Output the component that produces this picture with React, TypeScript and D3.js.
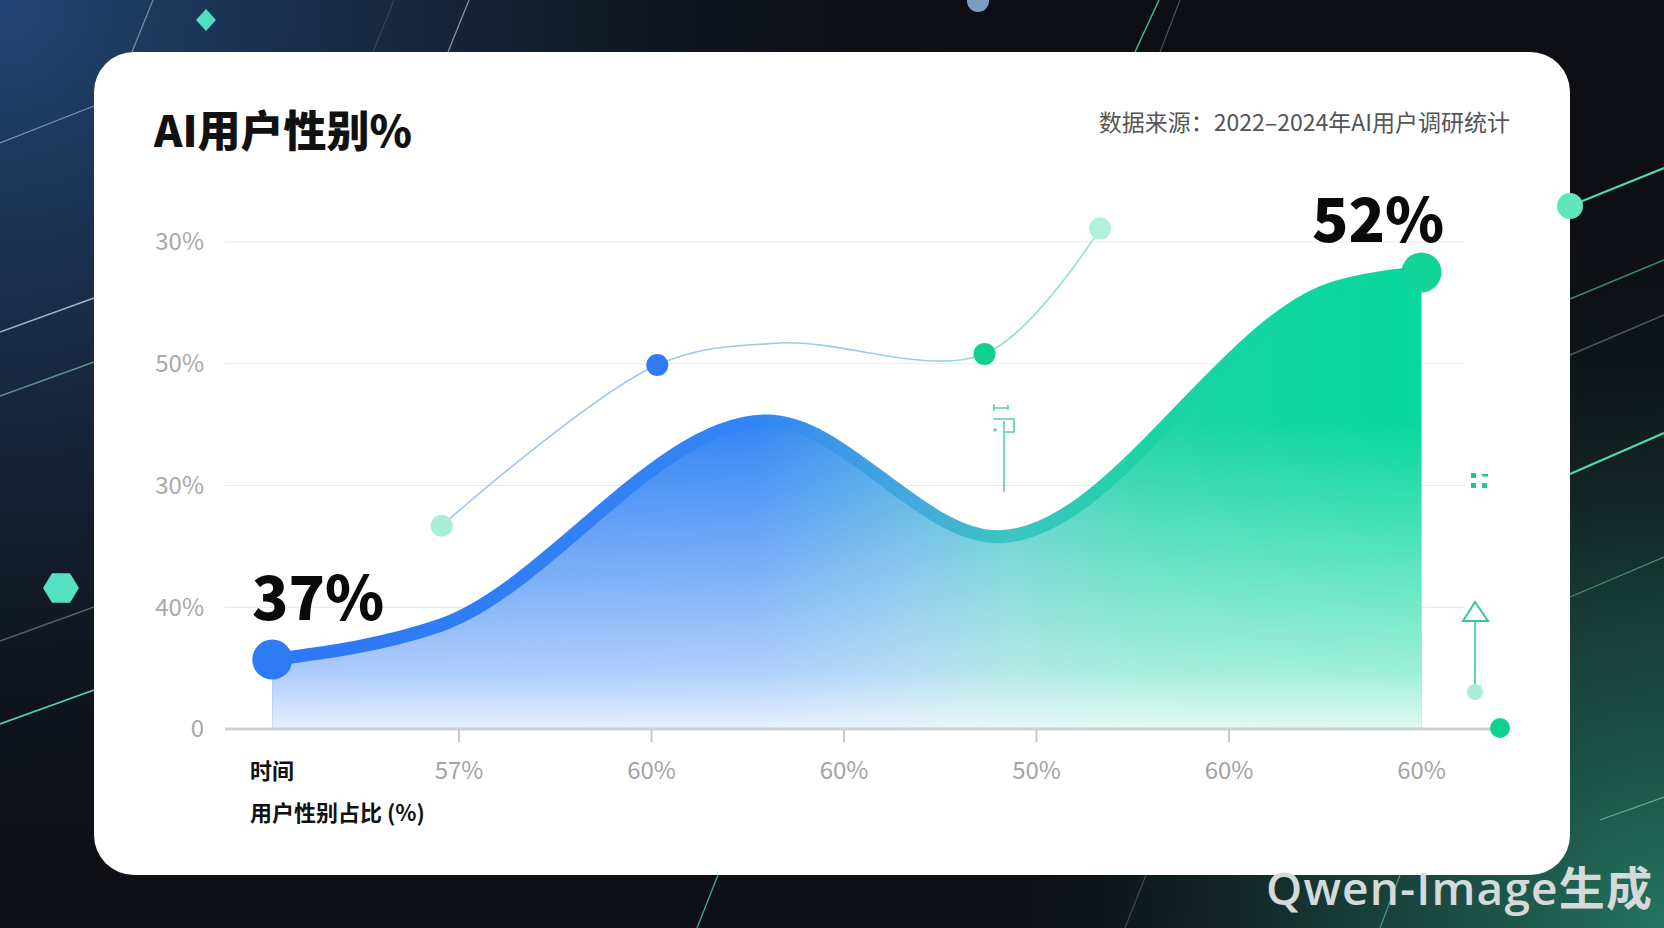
import React from "react";
import * as d3 from "d3";

// ---------- data ----------
const xTickLabels = ["时间", "57%", "60%", "60%", "50%", "60%", "60%"];
const yTickValues = [0, 1, 2, 3, 4];
const yTickLabels = ["0", "40%", "30%", "50%", "30%"];

// main area series: [position index, value in grid units]
const mainX = [0.03, 0.9, 2.6, 3.8, 5.56, 6.0];
const mainY = [0.57, 0.85, 2.53, 1.58, 3.63, 3.75];

// secondary thin line series
const sideX = [0.91, 2.03, 2.67, 3.73, 4.33];
const sideY = [1.67, 2.99, 3.17, 3.08, 4.11];
const sideDot = [true, true, false, true, true];

const startLabel = "37%";
const endLabel = "52%";
const title = "AI用户性别%";
const source = "数据来源：2022–2024年AI用户调研统计";
const xTitle = "用户性别占比 (%)";

// ---------- styles ----------
const W = 1664;
const H = 928;
const FONT = "'Noto Sans CJK SC', 'Noto Sans', sans-serif";
const sideDotColors = ["#a9efd8", "#2f7bf5", "none", "#10cf90", "#b2f1dd"];

const x = d3.scaleLinear().domain([0, 6]).range([266.5, 1421.5]);
const y = d3.scaleLinear().domain([0, 4]).range([729, 242]);

export default function App() {
  const main = mainX.map((v, i) => [v, mainY[i]] as [number, number]);
  const side = sideX.map((v, i) => [v, sideY[i]] as [number, number]);

  const area = d3
    .area<[number, number]>()
    .x((d) => x(d[0]))
    .y0(y(0))
    .y1((d) => y(d[1]))
    .curve(d3.curveMonotoneX);
  const mainLine = d3
    .line<[number, number]>()
    .x((d) => x(d[0]))
    .y((d) => y(d[1]))
    .curve(d3.curveMonotoneX);
  const sideLine = d3
    .line<[number, number]>()
    .x((d) => x(d[0]))
    .y((d) => y(d[1]))
    .curve(d3.curveCatmullRom.alpha(0.5));

  const first = main[0];
  const last = main[main.length - 1];

  const bgLines: [number, number, number, number, string, number][] = [
    [0, 143, 94, 106, "#7f93a8", 1.2],
    [0, 332, 94, 298, "#a4b2bf", 1.6],
    [0, 396, 94, 362, "#5e918a", 1.6],
    [0, 641, 94, 607, "#5c6066", 1.4],
    [0, 724, 94, 690, "#4fd6a6", 1.8],
    [1570, 206, 1664, 168, "#4fd9a8", 2.2],
    [1570, 299, 1664, 260, "#3a8a6a", 1.6],
    [1570, 355, 1664, 315, "#50565c", 1.4],
    [1570, 474, 1664, 433, "#4fd9a8", 2.2],
    [1570, 597, 1664, 557, "#4c8c7c", 1.2],
    [1600, 820, 1664, 797, "#6fa898", 1.2],
    [132, 52, 153, 0, "#7f8ea0", 1.2],
    [373, 52, 394, 0, "#3d4d60", 1],
    [448, 52, 469, 0, "#8a98a8", 1.2],
    [1135, 52, 1159, 0, "#3fbf94", 1.4],
    [1160, 52, 1180, 0, "#4a5258", 1.2],
    [697, 928, 718, 875, "#3fa58a", 1.4],
    [1125, 928, 1146, 875, "#3c4a4c", 1.2],
    [1380, 928, 1400, 875, "#4a9a88", 1.2],
  ];

  const hex = d3.range(6).map((k) => {
    const a = (Math.PI / 3) * k;
    return [61 + 18 * Math.cos(a), 588 + 17 * Math.sin(a)].join(",");
  });

  const areaD = area(main) || "";

  return (
    <svg width={W} height={H} style={{ position: "absolute", left: 0, top: 0 }}>
      <defs>
        <radialGradient id="bgTL" cx="0" cy="0" r="950" gradientUnits="userSpaceOnUse">
          <stop offset="0" stopColor="#234676" stopOpacity="1" />
          <stop offset="0.5" stopColor="#1a2f4c" stopOpacity="0.6" />
          <stop offset="1" stopColor="#0d1016" stopOpacity="0" />
        </radialGradient>
        <radialGradient id="bgBR" cx="1664" cy="928" r="720" gradientUnits="userSpaceOnUse">
          <stop offset="0" stopColor="#237560" stopOpacity="1" />
          <stop offset="0.45" stopColor="#1a4a40" stopOpacity="0.75" />
          <stop offset="1" stopColor="#0d1016" stopOpacity="0" />
        </radialGradient>
        <linearGradient id="areaH" x1="270" y1="0" x2="1425" y2="0" gradientUnits="userSpaceOnUse">
          <stop offset="0" stopColor="#2f7bf5" />
          <stop offset="0.42" stopColor="#3385f4" />
          <stop offset="0.56" stopColor="#49ace2" />
          <stop offset="0.64" stopColor="#42c6c6" />
          <stop offset="0.76" stopColor="#1ed4a6" />
          <stop offset="1" stopColor="#05d89c" />
        </linearGradient>
        <linearGradient id="strokeH" x1="270" y1="0" x2="1425" y2="0" gradientUnits="userSpaceOnUse">
          <stop offset="0" stopColor="#2d78f5" />
          <stop offset="0.42" stopColor="#3385f4" />
          <stop offset="0.56" stopColor="#44aade" />
          <stop offset="0.64" stopColor="#3cc4c2" />
          <stop offset="0.76" stopColor="#1cd3a4" />
          <stop offset="1" stopColor="#05d89c" />
        </linearGradient>
        <linearGradient id="whiteV" x1="0" y1="275" x2="0" y2="729" gradientUnits="userSpaceOnUse">
          <stop offset="0" stopColor="#ffffff" stopOpacity="0" />
          <stop offset="0.32" stopColor="#ffffff" stopOpacity="0" />
          <stop offset="0.6" stopColor="#ffffff" stopOpacity="0.3" />
          <stop offset="0.87" stopColor="#ffffff" stopOpacity="0.6" />
          <stop offset="1" stopColor="#ffffff" stopOpacity="0.88" />
        </linearGradient>
        <linearGradient id="sideGrad" x1="442" y1="0" x2="1100" y2="0" gradientUnits="userSpaceOnUse">
          <stop offset="0" stopColor="#9fc6ee" />
          <stop offset="0.5" stopColor="#9cc9e6" />
          <stop offset="1" stopColor="#8fe3c9" />
        </linearGradient>
      </defs>

      {/* background */}
      <rect x={0} y={0} width={W} height={H} fill="#0d0f14" />
      <rect x={0} y={0} width={W} height={H} fill="url(#bgTL)" />
      <rect x={0} y={0} width={W} height={H} fill="url(#bgBR)" />
      {bgLines.map((l, i) => (
        <line key={i} x1={l[0]} y1={l[1]} x2={l[2]} y2={l[3]} stroke={l[4]} strokeWidth={l[5]} />
      ))}
      <polygon points="206,9 216,20 206,31 196,20" fill="#4fe0bf" />
      <polygon points={hex.join(" ")} fill="#55e0c3" />
      <circle cx={978} cy={1} r={11} fill="#7c9cc6" />

      {/* card */}
      <rect x={94} y={52} width={1476} height={823} rx={40} fill="#ffffff" />
      <circle cx={1570} cy={206} r={13} fill="#5ee6bd" />

      {/* title & source */}
      <text x={154} y={147} fontFamily={FONT} fontWeight={900} fontSize={43} fill="#111">
        {title}
      </text>
      <text x={1510} y={131} textAnchor="end" fontFamily={FONT} fontSize={23} fill="#555">
        {source}
      </text>

      {/* grid & y ticks */}
      {yTickValues.map((v, i) => (
        <g key={i}>
          {v !== 0 && (
            <line x1={225} x2={1465} y1={y(v)} y2={y(v)} stroke="#e8e8e8" strokeWidth={1} />
          )}
          <text
            x={204}
            y={y(v)}
            dy="0.35em"
            textAnchor="end"
            fontFamily={FONT}
            fontSize={24}
            fill="#a8a8a8"
          >
            {yTickLabels[i]}
          </text>
        </g>
      ))}

      {/* area */}
      <path d={areaD} fill="url(#areaH)" />
      <path d={areaD} fill="url(#whiteV)" />
      <path
        d={mainLine(main) || ""}
        fill="none"
        stroke="url(#strokeH)"
        strokeWidth={13}
        strokeLinecap="round"
      />

      {/* baseline & x ticks */}
      <line x1={225} x2={1492} y1={y(0)} y2={y(0)} stroke="#cfcfcf" strokeWidth={3} />
      {xTickLabels.map((lab, i) =>
        i === 0 ? (
          <text key={i} x={250} y={779} fontFamily={FONT} fontWeight={700} fontSize={22} fill="#111">
            {lab}
          </text>
        ) : (
          <g key={i}>
            {i < 6 && (
              <line x1={x(i)} x2={x(i)} y1={y(0)} y2={y(0) + 13} stroke="#c9c9c9" strokeWidth={2} />
            )}
            <text x={x(i)} y={779} textAnchor="middle" fontFamily={FONT} fontSize={24} fill="#a3a3a3">
              {lab}
            </text>
          </g>
        )
      )}
      <text x={250} y={821} fontFamily={FONT} fontWeight={700} fontSize={22} fill="#111">
        {xTitle}
      </text>

      {/* side line */}
      <path d={sideLine(side) || ""} fill="none" stroke="url(#sideGrad)" strokeWidth={1.6} />
      {side.map((d, i) =>
        sideDot[i] ? <circle key={i} cx={x(d[0])} cy={y(d[1])} r={11} fill={sideDotColors[i]} /> : null
      )}

      {/* end points */}
      <circle cx={x(first[0])} cy={y(first[1])} r={20} fill="#2f7bf5" />
      <circle cx={x(last[0])} cy={y(last[1])} r={20} fill="#12d499" />
      <text x={252} y={620} fontFamily={FONT} fontWeight={900} fontSize={60} fill="#0a0a0a">
        {startLabel}
      </text>
      <text x={1312} y={242} fontFamily={FONT} fontWeight={900} fontSize={60} fill="#0a0a0a">
        {endLabel}
      </text>

      {/* small decorations */}
      <g stroke="#5acdb3" strokeWidth={1.6} fill="none">
        <path d="M994 408 H1008 M994 404 V411 M1008 405 V410" />
        <path d="M993 419 H1014 V432 H1004" />
        <path d="M1004 421 V492" />
      </g>
      <circle cx={995} cy={430} r={1.8} fill="#5acdb3" />
      <g fill="#22c592">
        <rect x={1471} y={473} width={5} height={5} />
        <rect x={1482} y={474} width={6} height={2.5} />
        <rect x={1471} y={483} width={5} height={5} />
        <rect x={1482} y={483} width={5} height={5} />
      </g>
      <polygon points="1475,602 1463,621 1488,621" fill="#fff" stroke="#35c79c" strokeWidth={2} />
      <line x1={1475} x2={1475} y1={621} y2={686} stroke="#35c79c" strokeWidth={1.6} />
      <circle cx={1475} cy={692} r={8} fill="#a8eed6" />
      <circle cx={1500} cy={728} r={10} fill="#10d091" />

      {/* watermark */}
      <text
        x={1266}
        y={905}
        fontFamily="'Open Sans', 'Noto Sans CJK SC', sans-serif"
        fontWeight={600}
        fontSize={46}
        fill="#d4dada"
        textLength={386}
        lengthAdjust="spacing"
      >
        Qwen-Image生成
      </text>
    </svg>
  );
}
